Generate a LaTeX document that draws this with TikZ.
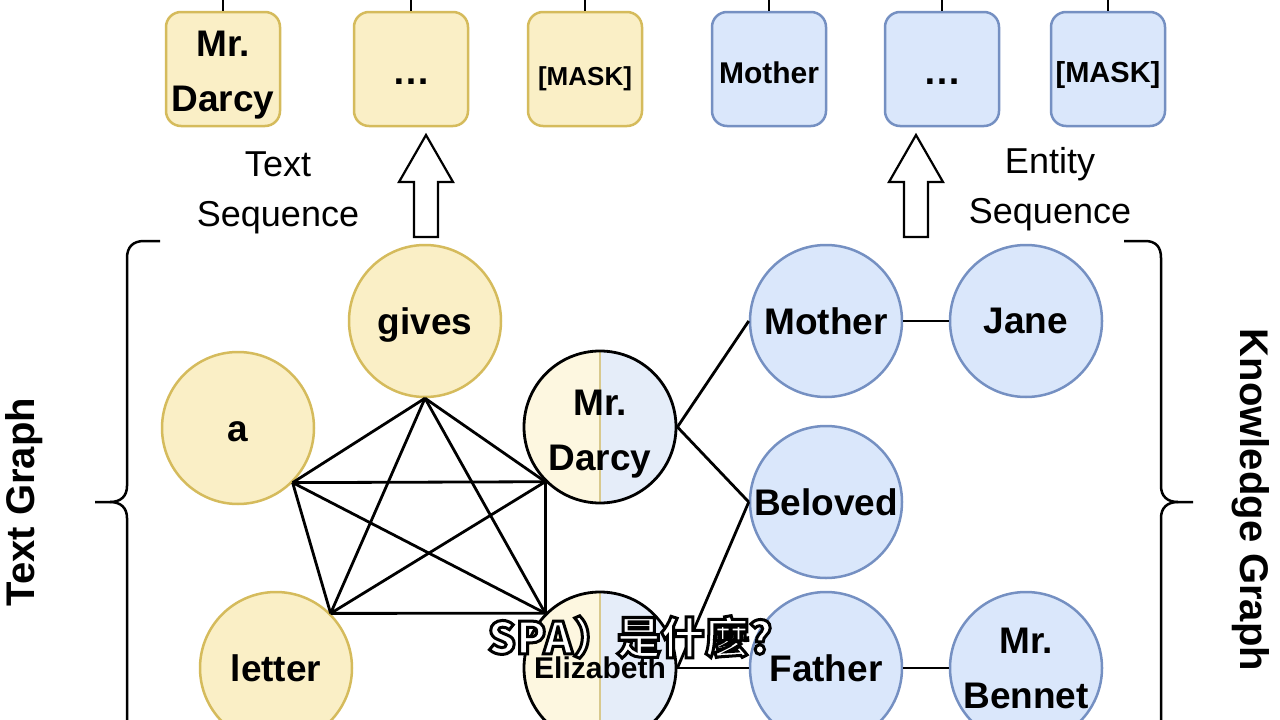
\documentclass[tikz,border=0pt]{standalone}
\usepackage{fontspec}
\setmainfont{Liberation Sans}
\newfontfamily\cjkfont{Noto Sans CJK TC}
\definecolor{yfill}{HTML}{FAEFC6}
\definecolor{yline}{HTML}{D5BB5C}
\definecolor{bfill}{HTML}{DAE7FB}
\definecolor{bline}{HTML}{7590C2}
\definecolor{myel}{HTML}{FDF7E0}
\definecolor{mblue}{HTML}{E5EDF9}
\definecolor{divc}{HTML}{D8C98E}
\newcommand\myfs[2]{\fontsize{#1}{#2}\selectfont}
% text whose baseline lies #1 below the node centre (box of zero size)
\newcommand\atbase[2]{\raisebox{-#1}[0pt][0pt]{#2}}
\newcommand\twoatbase[3]{\raisebox{-#1}[0pt][0pt]{\begin{tabular}[b]{@{}c@{}}#2\\#3\end{tabular}}}
\newcommand\twoline[3]{\raisebox{#1}{\begin{tabular}{@{}c@{}}#2\\#3\end{tabular}}}
\tikzset{
  tnode/.style={circle, minimum size=152pt, inner sep=0pt, draw=yline, fill=yfill,
    line width=2.5pt, font=\bfseries\myfs{37}{55}, align=center},
  knode/.style={circle, minimum size=152pt, inner sep=0pt, draw=bline, fill=bfill,
    line width=2.5pt, font=\bfseries\myfs{37}{55}, align=center},
  mnode/.style={circle, minimum size=152pt, inner sep=0pt, draw=black,
    line width=2.8pt, font=\bfseries\myfs{37}{55}, align=center,
    path picture={
      \fill[myel] (path picture bounding box.south west) rectangle (path picture bounding box.north);
      \fill[mblue] (path picture bounding box.south) rectangle (path picture bounding box.north east);
      \draw[divc, line width=1.2pt] (path picture bounding box.south) -- (path picture bounding box.north);}},
  capc/.style={text height=26.5pt, text depth=0pt},
  ybox/.style={rectangle, rounded corners=15pt, minimum width=114pt, minimum height=114pt,
    inner sep=0pt, draw=yline, fill=yfill, line width=2.5pt},
  bbox/.style={rectangle, rounded corners=15pt, minimum width=114pt, minimum height=114pt,
    inner sep=0pt, draw=bline, fill=bfill, line width=2.5pt},
  edge/.style={line width=2.8pt, black},
  stub/.style={line width=2.2pt, black},
  brc/.style={line width=2.5pt, black, line join=round},
  lbl/.style={font=\myfs{36}{50}},
  side/.style={font=\bfseries\myfs{40}{48}},
  uparrow/.pic={\draw[line width=2.2pt, fill=white, line join=miter]
    (-12,0) -- (-12,-55) -- (-27,-55) -- (0,-102) -- (27,-55) -- (12,-55) -- (12,0) -- cycle;}
}
\begin{document}
\begin{tikzpicture}[x=1pt, y=-1pt]
\useasboundingbox (0,0) rectangle (1280,720);
\clip (0,0) rectangle (1280,720);
\fill[white] (0,0) rectangle (1280,720);

% top sequence boxes
\node[ybox, font=\bfseries\myfs{37}{55}] (b1) at (223,69) {\twoatbase{42pt}{Mr.}{Darcy}};
\node[ybox, font=\bfseries\myfs{38}{40}] (b2) at (411,69) {\atbase{15pt}{…}};
\node[ybox, font=\bfseries\myfs{26}{30}] (b3) at (585,69) {\atbase{16pt}{[MASK]}};
\node[bbox, font=\bfseries\myfs{30}{36}] (b4) at (769,69) {\atbase{14pt}{Mother}};
\node[bbox, font=\bfseries\myfs{38}{40}] (b5) at (942,69) {\atbase{15pt}{…}};
\node[bbox, font=\bfseries\myfs{29}{34}] (b6) at (1108,69) {\atbase{13.5pt}{[MASK]}};
\foreach \b in {b1,b2,b3,b4,b5,b6} {
  \coordinate (\b top) at ([yshift=14pt]\b.north);
  \draw[stub] (\b.north) -- (\b top);
}

% labels
\node[lbl] (tseq) at (278,191) {\twoline{0pt}{Text}{Sequence}};
\node[lbl] (eseq) at (1050,188) {\twoline{0pt}{Entity}{Sequence}};

% arrows
\pic at (426,237) {uparrow};
\pic at (916,237) {uparrow};

% braces
\draw[brc] (160,241) -- (144,241) .. controls (133,241) and (127,247) .. (127,258)
  -- (127,486) .. controls (127,496) and (121,502) .. (110,502) -- (95,502);
\draw[brc] (110,502) .. controls (121,502) and (127,508) .. (127,518) -- (127,740);
\draw[brc] (1124,241) -- (1145,241) .. controls (1156,241) and (1161,247) .. (1161,258)
  -- (1161,486) .. controls (1161,496) and (1167,502) .. (1178,502) -- (1193,502);
\draw[brc] (1178,502) .. controls (1167,502) and (1161,508) .. (1161,518) -- (1161,740);

\node[side, rotate=90] (tg) at (24,502) {Text Graph};
\node[side, rotate=-90] (kg) at (1251,500) {Knowledge Graph};

% text graph nodes
\node[tnode, capc] (gives) at (425,321) {gives};
\node[tnode, capc] (a) at (238,428) {a};
\node[tnode] (letter) at (276,668) {letter};
\node[mnode] (darcy) at (600,427) {\twoatbase{43pt}{Mr.}{Darcy}};
\node[mnode, font=\bfseries\myfs{30}{36}] (eliz) at (600,668) {Elizabeth};

% knowledge graph nodes
\node[knode] (mother) at (826,321) {Mother};
\node[knode] (jane) at (1026,321) {Jane};
\node[knode] (beloved) at (826,502) {Beloved};
\node[knode] (father) at (826,668) {Father};
\node[knode] (bennet) at (1026,668) {Mr.\\Bennet};

% text graph edges (complete graph)
\draw[edge] (gives.south) -- (a.-45);
\draw[edge] (gives.south) -- (darcy.225);
\draw[edge] (gives.south) -- (letter.45);
\draw[edge] (gives.south) -- (eliz.135);
\draw[edge] (a.-45) -- (darcy.225);
\draw[edge] (a.-45) -- (letter.45);
\draw[edge] (a.-45) -- (eliz.135);
\draw[edge] (letter.45) -- (darcy.225);
\draw[edge] (letter.45) -- (eliz.135);
\draw[edge] (darcy.225) -- (eliz.135);

% knowledge graph edges
\draw[edge] (darcy.east) -- (mother.west);
\draw[edge] (darcy.east) -- (beloved.west);
\draw[edge] (eliz.east) -- (beloved.west);
\draw[edge] (eliz.east) -- (father.west);
\draw[edge] (mother.east) -- (jane.west);
\draw[edge] (father.east) -- (bennet.west);

% subtitle overlay (white letters with black outline)
\node[font=\cjkfont\bfseries\myfs{44}{50}, inner sep=0pt, text=white] (sub) at (630,637)
  {\special{pdf:literal direct 2 Tr 0 G 3 w}SPA）是什麼?\special{pdf:literal direct 0 Tr}};
\end{tikzpicture}
\end{document}
